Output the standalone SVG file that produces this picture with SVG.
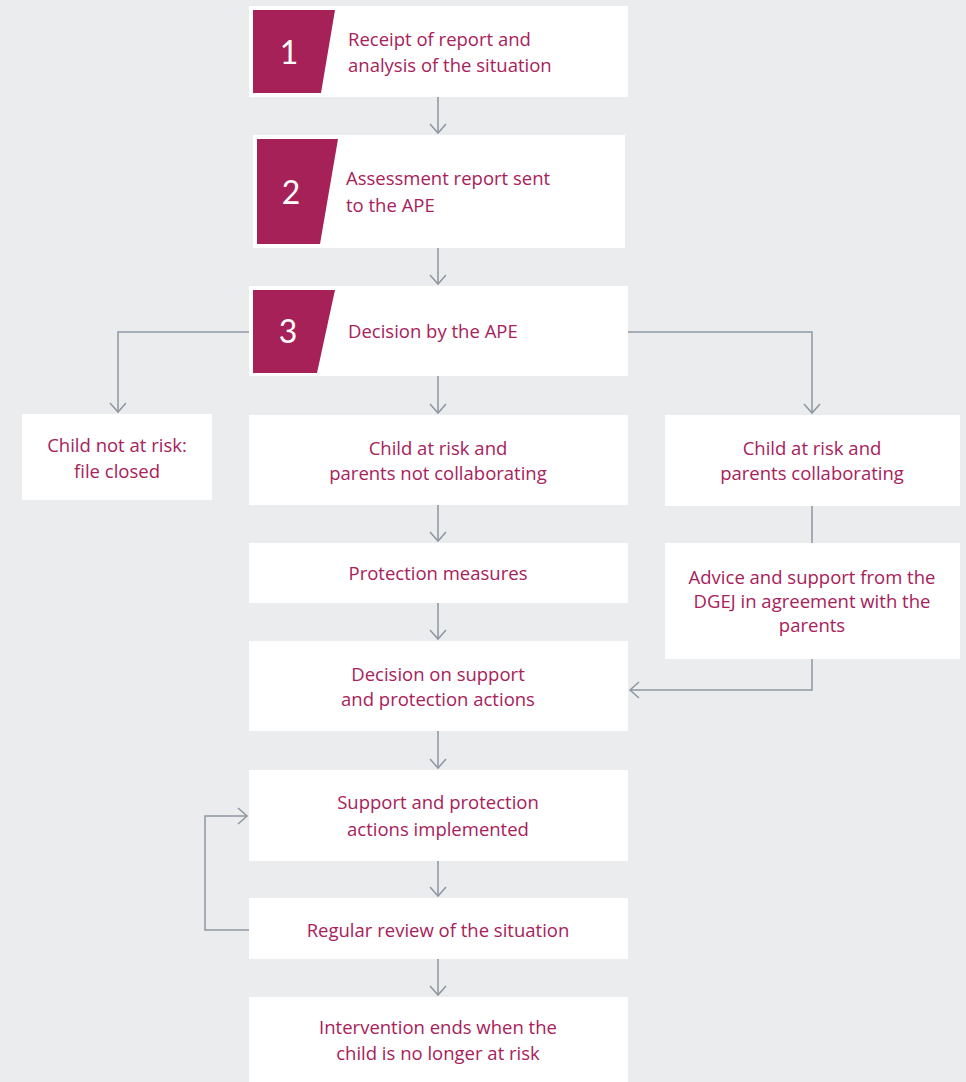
<svg xmlns="http://www.w3.org/2000/svg" width="966" height="1082" viewBox="0 0 966 1082">
<defs>
<style>
.bg{fill:#EBECEE}
.box{fill:#FFFFFF}
.badge{fill:#A62158}
.t{font-family:"Open Sans",Lato,"Liberation Sans",sans-serif;font-size:18.5px;fill:#A8215A;text-anchor:middle}
.tl{font-family:"Open Sans",Lato,"Liberation Sans",sans-serif;font-size:18.5px;fill:#A8215A}
.num{font-family:Lato,"Open Sans","Liberation Sans",sans-serif;font-size:32px;fill:#FFFFFF;text-anchor:middle}
.c{fill:none;stroke:#8E96A0;stroke-width:1.5}
</style>
<marker id="arr" markerWidth="20" markerHeight="20" refX="10" refY="10" orient="auto" markerUnits="userSpaceOnUse">
<path d="M1,2 L10,10 L1,18" fill="none" stroke="#8E96A0" stroke-width="1.5"/>
</marker>
</defs>
<rect class="bg" x="0" y="0" width="966" height="1082"/>
<g id="connectors">
<path class="c" d="M438,97 V133" marker-end="url(#arr)"/>
<path class="c" d="M438,248 V284" marker-end="url(#arr)"/>
<path class="c" d="M249,332 H118 V412" marker-end="url(#arr)"/>
<path class="c" d="M438,376 V413" marker-end="url(#arr)"/>
<path class="c" d="M628,332 H812 V413" marker-end="url(#arr)"/>
<path class="c" d="M438,505 V541" marker-end="url(#arr)"/>
<path class="c" d="M438,603 V639" marker-end="url(#arr)"/>
<path class="c" d="M812,505 V543"/>
<path class="c" d="M812,658 V690 H630" marker-end="url(#arr)"/>
<path class="c" d="M438,731 V768" marker-end="url(#arr)"/>
<path class="c" d="M438,861 V896" marker-end="url(#arr)"/>
<path class="c" d="M438,959 V995" marker-end="url(#arr)"/>
<path class="c" d="M249,930 H205 V816 H247" marker-end="url(#arr)"/>
</g>
<g id="n1">
<rect class="box" x="249" y="6" width="379" height="91"/>
<polygon class="badge" points="253,10 335,10 321,93 253,93"/>
<text class="num" x="289" y="64">1</text>
<text class="tl" x="348" y="46">Receipt of report and</text>
<text class="tl" x="348" y="72">analysis of the situation</text>
</g>
<g id="n2">
<rect class="box" x="253" y="135" width="372" height="113"/>
<polygon class="badge" points="257,139 338,139 320,244 257,244"/>
<text class="num" x="291" y="204">2</text>
<text class="tl" x="346" y="185">Assessment report sent</text>
<text class="tl" x="346" y="212">to the APE</text>
</g>
<g id="n3">
<rect class="box" x="249" y="286" width="379" height="90"/>
<polygon class="badge" points="253,290 335,290 317,373 253,373"/>
<text class="num" x="288" y="343">3</text>
<text class="tl" x="348" y="338">Decision by the APE</text>
</g>
<g id="n4">
<rect class="box" x="22" y="414" width="190" height="86"/>
<text class="t" x="117" y="452">Child not at risk:</text>
<text class="t" x="117" y="478">file closed</text>
</g>
<g id="n5">
<rect class="box" x="249" y="415" width="379" height="90"/>
<text class="t" x="438" y="455">Child at risk and</text>
<text class="t" x="438" y="480">parents not collaborating</text>
</g>
<g id="n6">
<rect class="box" x="665" y="415" width="295" height="91"/>
<text class="t" x="812" y="455">Child at risk and</text>
<text class="t" x="812" y="480">parents collaborating</text>
</g>
<g id="n7">
<rect class="box" x="249" y="543" width="379" height="60"/>
<text class="t" x="438" y="580">Protection measures</text>
</g>
<g id="n8">
<rect class="box" x="665" y="543" width="295" height="116"/>
<text class="t" x="812" y="584">Advice and support from the</text>
<text class="t" x="812" y="608">DGEJ in agreement with the</text>
<text class="t" x="812" y="632">parents</text>
</g>
<g id="n9">
<rect class="box" x="249" y="641" width="379" height="90"/>
<text class="t" x="438" y="681">Decision on support</text>
<text class="t" x="438" y="706">and protection actions</text>
</g>
<g id="n10">
<rect class="box" x="249" y="770" width="379" height="91"/>
<text class="t" x="438" y="809">Support and protection</text>
<text class="t" x="438" y="836">actions implemented</text>
</g>
<g id="n11">
<rect class="box" x="249" y="898" width="379" height="61"/>
<text class="t" x="438" y="937">Regular review of the situation</text>
</g>
<g id="n12">
<rect class="box" x="249" y="997" width="379" height="85"/>
<text class="t" x="438" y="1034">Intervention ends when the</text>
<text class="t" x="438" y="1060">child is no longer at risk</text>
</g>
</svg>
